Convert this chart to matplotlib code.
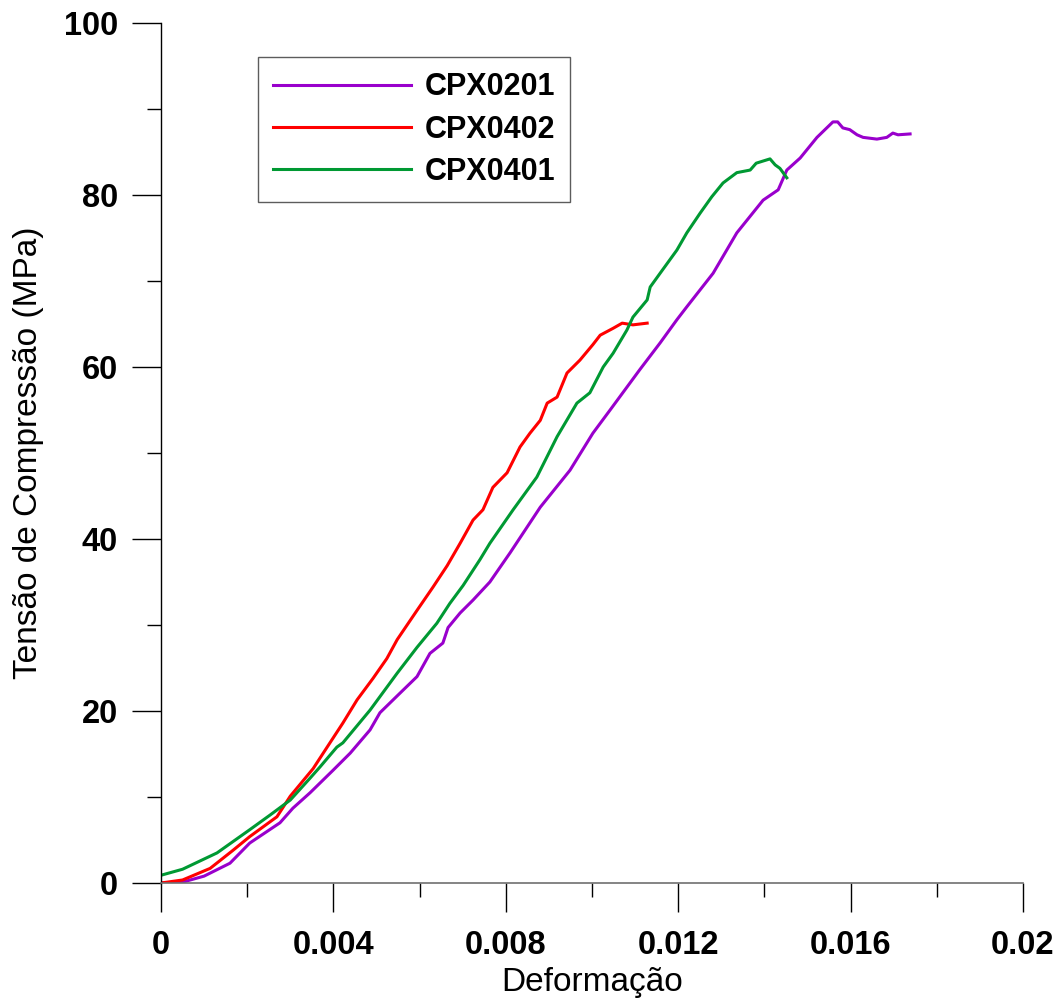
import matplotlib
matplotlib.use("Agg")
import matplotlib.pyplot as plt
from matplotlib.ticker import MultipleLocator, FixedLocator

plt.rcParams['font.family'] = ['Liberation Sans', 'DejaVu Sans']

# CPX0201 (purple)
x_0201 = [0.0, 0.0005, 0.0010, 0.0016, 0.00206, 0.00276, 0.00306, 0.00346, 0.00399, 0.00439,
          0.00485, 0.00508, 0.00555, 0.00594, 0.00624, 0.00654, 0.00666, 0.00694, 0.00724,
          0.00763, 0.0081, 0.0088, 0.00949, 0.01002, 0.01042, 0.01111, 0.01158, 0.01197,
          0.0122, 0.01281, 0.01336, 0.01397, 0.01432, 0.01452, 0.01483, 0.01522, 0.01559,
          0.0157, 0.01582, 0.01598, 0.01615, 0.01629, 0.01661, 0.01684, 0.01698, 0.0171,
          0.01738]
y_0201 = [0.0, 0.1, 0.8, 2.3, 4.65, 7.0, 8.7, 10.5, 13.1, 15.1,
          17.8, 19.8, 22.1, 24.0, 26.7, 27.9, 29.7, 31.4, 32.9,
          35.0, 38.4, 43.7, 48.0, 52.3, 55.0, 59.7, 62.8, 65.5,
          67.0, 70.9, 75.6, 79.4, 80.6, 82.9, 84.3, 86.7, 88.5,
          88.5, 87.8, 87.6, 87.0, 86.7, 86.5, 86.7, 87.2, 87.0,
          87.1]

# CPX0402 (red)
x_0402 = [0.0, 0.0005, 0.00114, 0.00167, 0.00206, 0.00269, 0.003, 0.00353, 0.00392, 0.00422,
          0.00455, 0.00492, 0.00524, 0.00548, 0.00594, 0.00631, 0.00664, 0.00694, 0.00724,
          0.00747, 0.0077, 0.00803, 0.00833, 0.00856, 0.0088, 0.00896, 0.00919, 0.00942,
          0.00972, 0.01002, 0.01019, 0.01049, 0.0107, 0.01095, 0.01128]
y_0402 = [0.0, 0.35, 1.7, 3.8, 5.4, 7.7, 10.1, 13.3, 16.3, 18.6,
          21.3, 23.8, 26.1, 28.3, 31.7, 34.4, 36.9, 39.5, 42.2,
          43.4, 46.0, 47.7, 50.7, 52.3, 53.8, 55.8, 56.5, 59.3,
          60.8, 62.6, 63.7, 64.5, 65.1, 64.9, 65.1]

# CPX0401 (green)
x_0401 = [0.0, 0.0005, 0.0013, 0.00206, 0.00253, 0.003, 0.00346, 0.00369, 0.00408, 0.00422,
          0.00485, 0.00548, 0.00594, 0.0064, 0.0067, 0.00701, 0.0074, 0.00763, 0.00817,
          0.00872, 0.00919, 0.00965, 0.00995, 0.01026, 0.01049, 0.01081, 0.01095, 0.01128,
          0.01135, 0.01158, 0.01197, 0.0122, 0.01251, 0.01278, 0.01304, 0.01336, 0.01367,
          0.01381, 0.01413, 0.01425, 0.01436, 0.01452]
y_0401 = [0.9, 1.6, 3.5, 6.2, 7.9, 9.65, 12.2, 13.5, 15.8, 16.3,
          20.1, 24.4, 27.4, 30.2, 32.5, 34.6, 37.6, 39.5, 43.4,
          47.2, 51.9, 55.8, 57.0, 60.0, 61.6, 64.3, 65.8, 67.8,
          69.3, 70.9, 73.6, 75.6, 77.9, 79.8, 81.4, 82.6, 82.9,
          83.7, 84.2, 83.5, 83.1, 82.0]

series = [
    ("CPX0201", x_0201, y_0201, "#9900cc"),
    ("CPX0402", x_0402, y_0402, "#ff0000"),
    ("CPX0401", x_0401, y_0401, "#009933"),
]

x_ticks = [0, 0.004, 0.008, 0.012, 0.016, 0.02]
x_ticklabels = ["0", "0.004", "0.008", "0.012", "0.016", "0.02"]
y_ticks = [0, 20, 40, 60, 80, 100]
y_ticklabels = ["0", "20", "40", "60", "80", "100"]

fig = plt.figure(figsize=(10.61, 10.02), dpi=100)
ax = fig.add_axes([161/1061, 1-883/1002, (1023-161)/1061, (883-23)/1002])

for name, xs, ys, c in series:
    ax.plot(xs, ys, color=c, lw=2.2, label=name, solid_joinstyle='round')

ax.set_xlim(0, 0.02)
ax.set_ylim(0, 100)
for s in ['top', 'right']:
    ax.spines[s].set_visible(False)
ax.spines['bottom'].set_color('#707070')
ax.spines['left'].set_color('#000000')
ax.spines['bottom'].set_linewidth(1.2)
ax.spines['left'].set_linewidth(1.0)

ax.xaxis.set_major_locator(FixedLocator(x_ticks))
ax.set_xticklabels(x_ticklabels)
ax.yaxis.set_major_locator(FixedLocator(y_ticks))
ax.set_yticklabels(y_ticklabels)
ax.xaxis.set_minor_locator(MultipleLocator(0.002))
ax.yaxis.set_minor_locator(MultipleLocator(10))

ax.tick_params(axis='both', which='major', direction='out', length=21, width=1.0,
               labelsize=23.5)
ax.tick_params(axis='both', which='minor', direction='out', length=10, width=1.0)
ax.tick_params(axis='x', which='both', color='#000000', pad=13)
ax.tick_params(axis='y', which='both', color='#000000', pad=10)
for lab in ax.get_xticklabels() + ax.get_yticklabels():
    lab.set_fontweight('bold')

ax.set_xlabel("Deformação", fontsize=24, labelpad=4)
ax.set_ylabel("Tensão de Compressão (MPa)", fontsize=24, labelpad=14)

leg = ax.legend(loc='upper left', bbox_to_anchor=((258-161)/862, (883-57)/860),
                frameon=True, fancybox=False, edgecolor='#333333',
                prop={'weight': 'bold', 'size': 22}, handlelength=4.5,
                handletextpad=0.45, borderpad=0.5, labelspacing=0.4,
                borderaxespad=0)
leg.get_frame().set_linewidth(1.0)
for l in leg.get_lines():
    l.set_linewidth(2.2)

fig.savefig("out.png", dpi=100, facecolor='white')
